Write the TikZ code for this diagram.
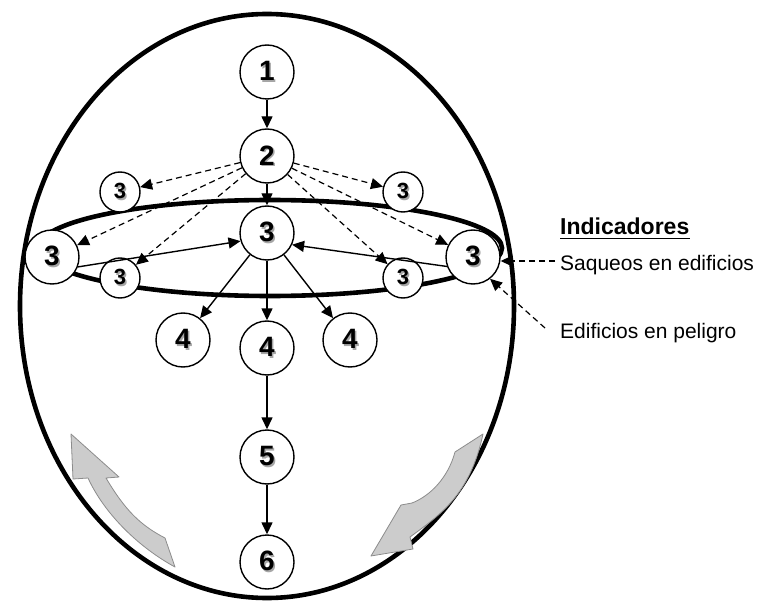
\documentclass[tikz,border=0pt]{standalone}
\usepackage{fontspec}
\setmainfont{Liberation Sans}
\usetikzlibrary{arrows.meta}

% digit with a soft grey drop shadow
\newcommand\shdigit[1]{\makebox[0pt][l]{\kern1.4pt\raisebox{-1.4pt}{\textcolor{black!35}{#1}}}#1}

\tikzset{
  stage/.style={circle,draw,line width=1.4pt,fill=white,minimum size=54pt,inner sep=0pt,
                font=\fontsize{28}{28}\selectfont\bfseries},
  substage/.style={stage,minimum size=40pt,font=\fontsize{22}{22}\selectfont\bfseries},
  link/.style={line width=1.4pt,-{Triangle[length=12pt,width=11pt]}},
  dlink/.style={line width=1.2pt,dash pattern=on 6pt off 4pt,-{Triangle[length=12pt,width=11pt]}},
  rim/.style={line width=4.6pt},
  flowarrow/.style={fill=black!20,draw=black!45,line width=0.8pt,line join=round},
  legend/.style={anchor=base west,inner sep=0pt,font=\fontsize{21}{21}\selectfont}
}

\begin{document}
\begin{tikzpicture}[x=1pt,y=-1pt]
\useasboundingbox (0,0) rectangle (763,604);

% outer boundary and inner ring
\draw[rim] (267,306) ellipse [x radius=247, y radius=292];
\draw[line width=4.6pt] (270,248) ellipse [x radius=232, y radius=48];

% grey circulation arrows
\draw[flowarrow] (71,434) -- (119,477) -- (106,478)
  .. controls (125,510) and (140,525) .. (165,538) -- (175,567)
  .. controls (140,548) and (105,515) .. (88,478) -- (73,479) -- cycle;
\draw[flowarrow] (483,434) -- (455,452)
  .. controls (448,478) and (430,496) .. (412,503) -- (401,505) -- (371,556)
  -- (413,549) -- (410,537)
  .. controls (440,515) and (470,495) .. (483,434) -- cycle;

% stages
\node[stage] (n1) at (267,72) {\shdigit{1}};
\node[stage] (n2) at (267,156) {\shdigit{2}};
\node[substage] (a) at (120,192) {\shdigit{3}};
\node[substage] (b) at (403,192) {\shdigit{3}};
\node[stage] (c) at (267,233) {\shdigit{3}};
\node[stage] (L) at (52,257) {\shdigit{3}};
\node[stage] (R) at (473,257) {\shdigit{3}};
\node[substage] (d) at (120,278) {\shdigit{3}};
\node[substage] (e) at (403,278) {\shdigit{3}};
\node[stage] (f) at (183,340) {\shdigit{4}};
\node[stage] (g) at (267,348) {\shdigit{4}};
\node[stage] (h) at (350,340) {\shdigit{4}};
\node[stage] (n5) at (267,457) {\shdigit{5}};
\node[stage] (n6) at (267,562) {\shdigit{6}};

% connectors
\draw[link] (n1) -- (n2);
\draw[link] (n2) -- (c);
\foreach \t in {a,b,L,R,d,e} \draw[dlink] (n2) -- (\t);
\draw[link] (L.-21) -- (c.197);
\draw[link] (R.200) -- (c.-25);
\draw[link] (c) -- (f);
\draw[link] (c) -- (g);
\draw[link] (c) -- (h);
\draw[link] (g) -- (n5);
\draw[link] (n5) -- (n6);

% indicators
\node[legend,font=\fontsize{23}{23}\selectfont\bfseries] (ind) at (560,235) {Indicadores};
\draw[line width=1.7pt] ([yshift=-3.5pt]ind.base west) -- ([yshift=-3.5pt]ind.base east);
\node[legend] (sq) at (560,270) {Saqueos en edificios};
\node[legend] (ep) at (560,338) {Edificios en peligro};
\coordinate (sqs) at (555,261);
\coordinate (eps) at (545,328);
\draw[dlink] (sqs) -- (sqs -| R.east);
\draw[dlink] (eps) -- (R.-52);
\end{tikzpicture}
\end{document}
